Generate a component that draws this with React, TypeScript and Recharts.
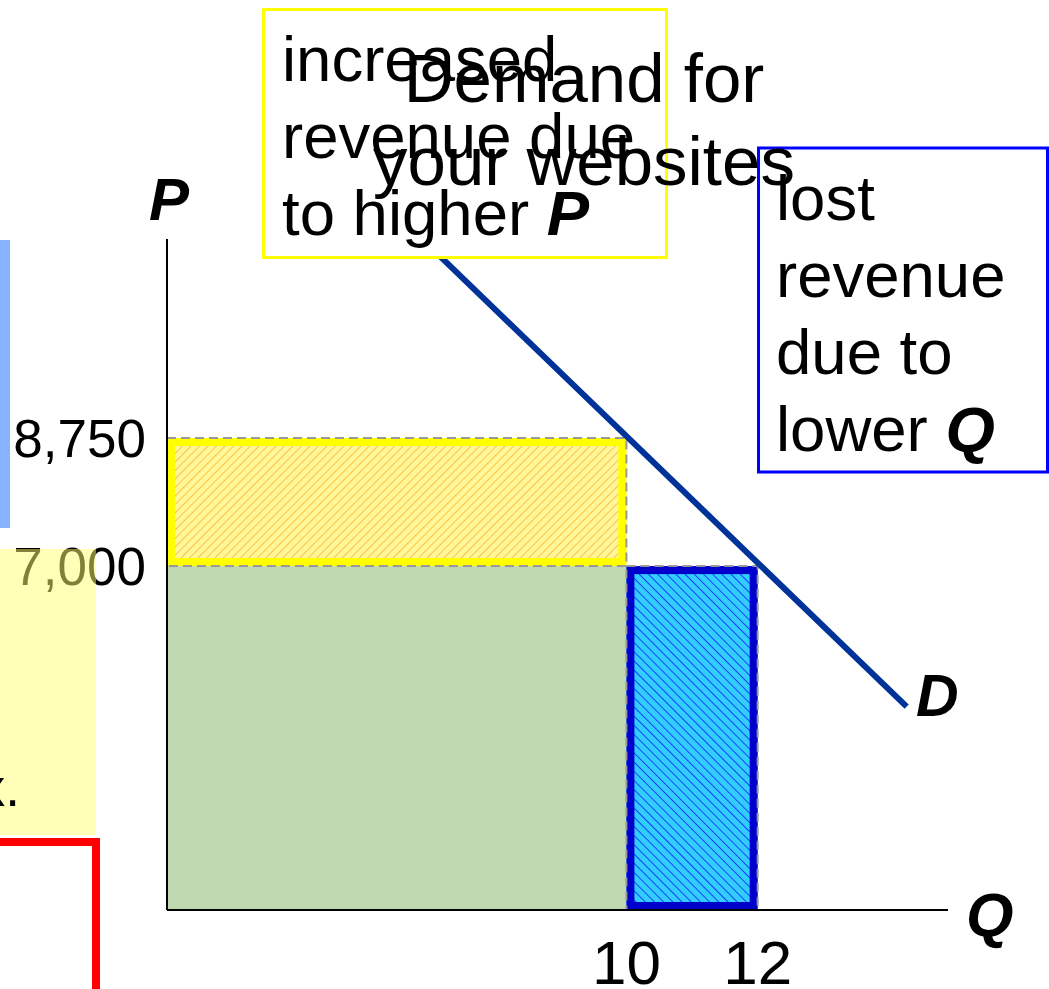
import { ComposedChart, Line, XAxis, YAxis, ReferenceArea } from "recharts";

const FONT = "'Liberation Sans', Arial, sans-serif";

// quantity range shown on the Q axis and price range on the P axis
const qDomain = [3, 14.9];
const pDomain = [2300, 11470];

const qTicks = [10, 12];
const pTicks = [7000, 8750];

// two points on the demand curve
const demand = [
  { q: 7.13, p: 11260 },
  { q: 14.27, p: 5080 },
];

const oldPrice = 7000;
const newPrice = 8750;
const newQty = 10;
const oldQty = 12;

const titleLines = ["Demand for", "your websites"];
const gainLines = ["increased", "revenue due", "to higher "];
const lossLines = ["lost", "revenue", "due to", "lower "];

type Box = { x?: number; y?: number; width?: number; height?: number };

const greenShape = (p: Box) => (
  <rect x={p.x} y={p.y} width={p.width} height={p.height} fill="#c0d8b0" />
);

const hatchShape =
  (pattern: string, border: string, bw: number) => (p: Box) => {
    const x = p.x ?? 0;
    const y = p.y ?? 0;
    const w = p.width ?? 0;
    const h = p.height ?? 0;
    return (
      <g>
        <rect x={x} y={y} width={w} height={h} fill={`url(#${pattern})`} />
        <rect
          x={x + bw / 2}
          y={y + bw / 2}
          width={w - bw}
          height={h - bw}
          fill="none"
          stroke={border}
          strokeWidth={bw}
        />
        <rect
          x={x}
          y={y}
          width={w}
          height={h}
          fill="none"
          stroke="#999"
          strokeWidth={2}
          strokeDasharray="9 5"
        />
      </g>
    );
  };

export default function App() {
  return (
    <div style={{ position: "absolute", left: 0, top: 0, width: 1049, height: 989, fontFamily: FONT }}>
      <ComposedChart
        width={1049}
        height={989}
        data={demand}
        margin={{ top: 239, right: 101, bottom: 0, left: 0 }}
      >
        <defs>
          <pattern id="gainHatch" width="6" height="6" patternUnits="userSpaceOnUse" patternTransform="rotate(45)">
            <rect width="6" height="6" fill="#fff799" />
            <line x1="0" y1="0" x2="0" y2="6" stroke="#ffa31a" strokeWidth="1.3" />
          </pattern>
          <pattern id="lossHatch" width="6.5" height="6.5" patternUnits="userSpaceOnUse" patternTransform="rotate(-45)">
            <rect width="6.5" height="6.5" fill="#33ccff" />
            <line x1="0" y1="0" x2="0" y2="6.5" stroke="#0000ee" strokeWidth="1.3" />
          </pattern>
        </defs>
        <XAxis
          dataKey="q"
          type="number"
          domain={qDomain}
          ticks={qTicks}
          height={79}
          tickSize={0}
          tickMargin={30}
          tickLine={false}
          axisLine={{ stroke: "#000", strokeWidth: 2 }}
          tick={{ fill: "#000", fontSize: 62, fontFamily: FONT }}
        />
        <YAxis
          type="number"
          domain={pDomain}
          ticks={pTicks}
          width={167}
          tickSize={0}
          tickMargin={21}
          tickLine={false}
          axisLine={{ stroke: "#000", strokeWidth: 2 }}
          tick={{ fill: "#000", fontSize: 53, fontFamily: FONT }}
          tickFormatter={(v: number) => v.toLocaleString("en-US")}
        />
        <ReferenceArea x1={qDomain[0]} x2={newQty} y1={pDomain[0]} y2={oldPrice} shape={greenShape} />
        <ReferenceArea
          x1={qDomain[0]}
          x2={newQty}
          y1={oldPrice}
          y2={newPrice}
          shape={hatchShape("gainHatch", "#ffff00", 8)}
        />
        <ReferenceArea
          x1={newQty}
          x2={oldQty}
          y1={pDomain[0]}
          y2={oldPrice}
          shape={hatchShape("lossHatch", "#0000cc", 8)}
        />
        <Line
          type="linear"
          dataKey="p"
          stroke="#003399"
          strokeWidth={6}
          dot={false}
          activeDot={false}
          isAnimationActive={false}
        />
      </ComposedChart>

      <svg
        width={1049}
        height={989}
        style={{ position: "absolute", left: 0, top: 0, pointerEvents: "none" }}
        fontFamily={FONT}
      >
        {/* bits of neighbouring slide content, cut off at the left */}
        <rect x={0} y={240} width={10} height={288} fill="#88b4ff" />
        <rect x={0} y={549} width={96} height={286} fill="#ffff70" opacity={0.5} />
        <text x={20} y={806} fontSize={53} textAnchor="end">x.</text>
        <path d="M -10 842 H 96 V 995" fill="none" stroke="#ff0000" strokeWidth={8} />

        <rect x={263.5} y={9.5} width={403} height={248} fill="#fff" stroke="#ffff00" strokeWidth={3} />
        <text x={282} fontSize={63.5}>
          {gainLines.map((t, i) => (
            <tspan key={t} x={282} y={81 + i * 77}>
              {t}
              {i === gainLines.length - 1 && (
                <tspan fontWeight="bold" fontStyle="italic">P</tspan>
              )}
            </tspan>
          ))}
        </text>

        <rect x={758.5} y={148} width={289} height={324} fill="#fff" stroke="#0000ff" strokeWidth={3} />
        <text x={776} fontSize={63.5}>
          {lossLines.map((t, i) => (
            <tspan key={t} x={776} y={220 + i * 77}>
              {t}
              {i === lossLines.length - 1 && (
                <tspan fontWeight="bold" fontStyle="italic">Q</tspan>
              )}
            </tspan>
          ))}
        </text>

        <text fontSize={69} textAnchor="middle">
          {titleLines.map((t, i) => (
            <tspan key={t} x={584} y={102 + i * 83}>{t}</tspan>
          ))}
        </text>

        <text x={149} y={220} fontSize={60} fontWeight="bold" fontStyle="italic">P</text>
        <text x={966} y={936} fontSize={61} fontWeight="bold" fontStyle="italic">Q</text>
        <text x={916} y={716} fontSize={59} fontWeight="bold" fontStyle="italic">D</text>
      </svg>
    </div>
  );
}
